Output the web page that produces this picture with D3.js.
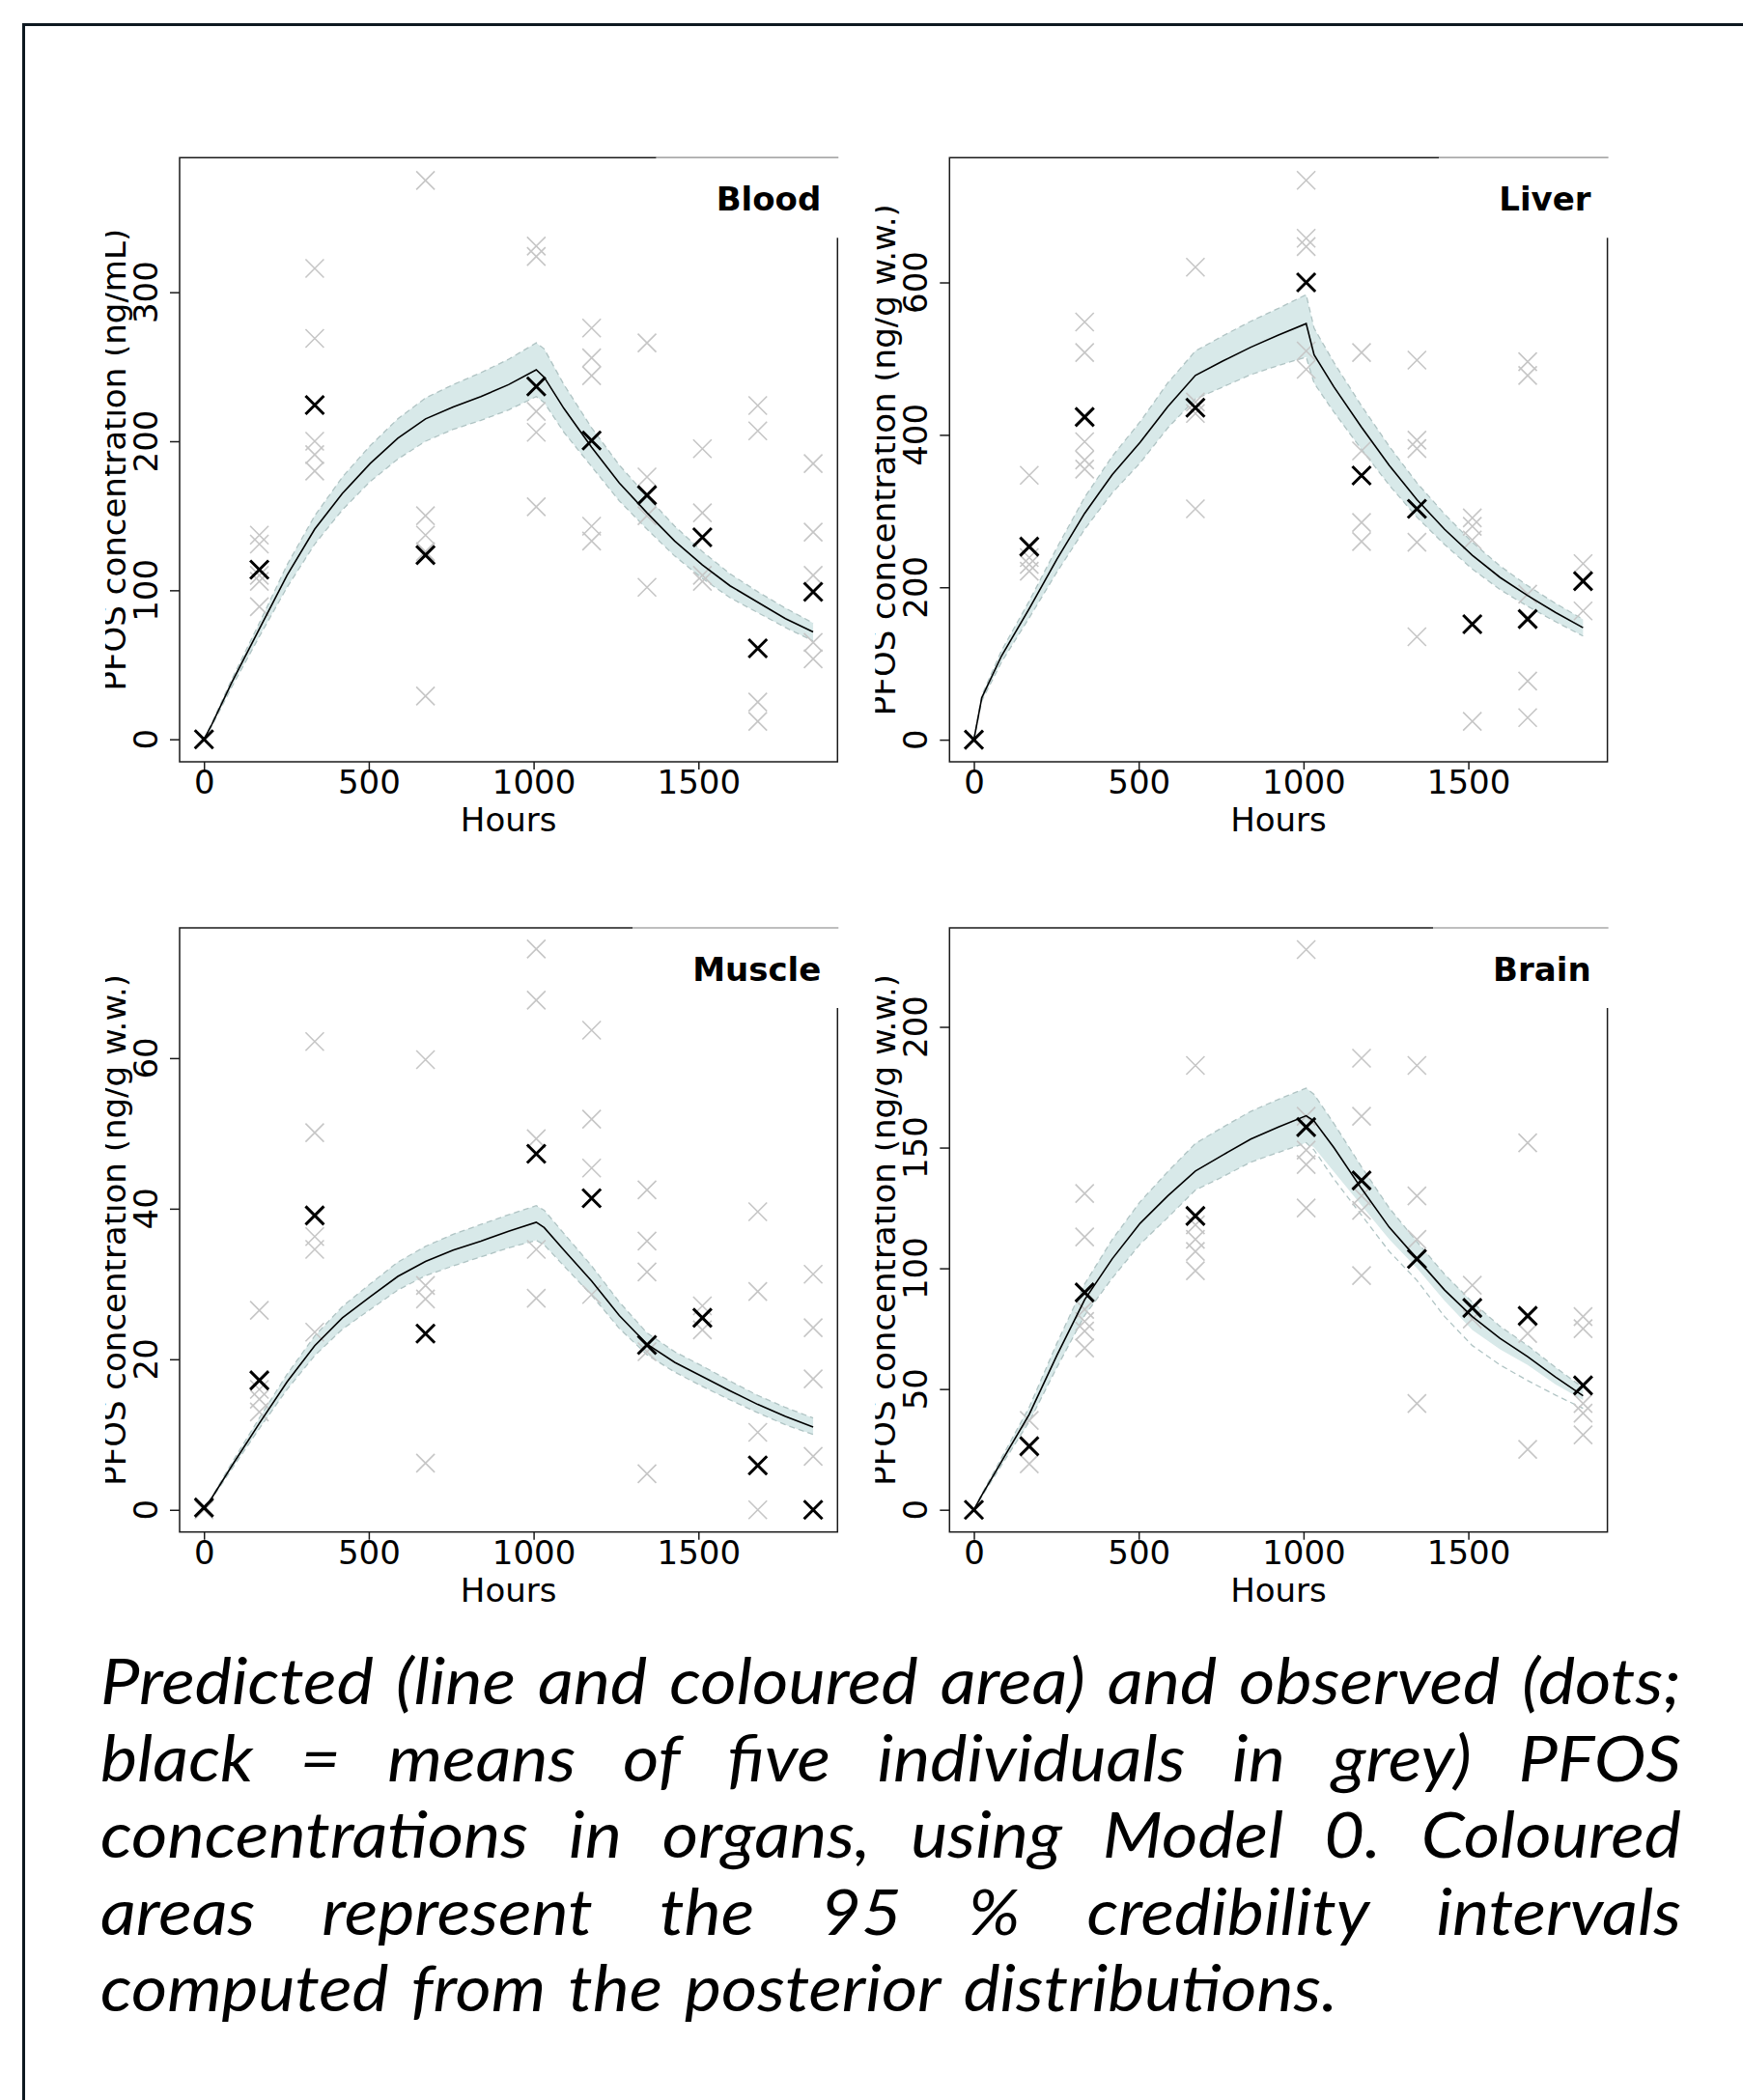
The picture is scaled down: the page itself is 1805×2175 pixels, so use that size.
<!DOCTYPE html>
<html>
<head>
<meta charset="utf-8">
<script src="https://cdn.jsdelivr.net/npm/d3@7/dist/d3.min.js"></script>
<style>
  body { margin: 0; background: #fff; }
  svg { display: block; }
</style>
</head>
<body>
<svg id="fig" width="1805" height="2175"></svg>
<script>
// sampling times (hours) of the observed data
const hours = [0, 168, 336, 672, 1008, 1176, 1344, 1512, 1680, 1848];
const predHours = [0, 24, 84, 168, 252, 336, 420, 504, 588, 672, 756, 840, 924, 1008, 1032, 1092, 1176, 1260, 1344, 1428, 1512, 1596, 1680, 1764, 1848];
const xTicks = [0, 500, 1000, 1500];

// ---- Blood
const bloodMean = [0, 113.8, 224.3, 123.6, 236.8, 200.5, 163.8, 135.5, 61, 98.9];
const bloodInd = [[0], [137, 131, 110, 106, 89], [316, 269, 200, 191, 180], [375, 150, 137, 126, 29],
  [331, 324, 220, 206, 156], [276, 256, 244, 143, 133], [266, 176, 150, 102], [195, 152, 110, 106],
  [224, 207, 25, 12], [185, 139, 110, 65, 54]];
const bloodPred = [0, 10, 38, 74, 110, 141, 165, 185, 202, 215, 223, 230, 238, 248, 243, 222, 196, 172, 152, 133, 117, 103, 92, 81, 72];
const bloodHi = [0, 11, 40, 78, 117, 150, 176, 197, 215, 229, 238, 246, 255, 266, 262, 238, 209, 184, 163, 143, 126, 111, 99, 88, 78];
const bloodLo = [0, 9, 35, 69, 102, 131, 154, 173, 188, 200, 208, 214, 221, 230, 226, 206, 183, 160, 141, 123, 108, 95, 85, 75, 66];

// ---- Liver
const liverMean = [0, 253.4, 423.5, 435.7, 600, 346.6, 302.9, 151.5, 158.4, 208];
const liverInd = [[0], [347, 239, 230, 221], [548, 508, 391, 367, 355], [620, 443, 428, 303],
  [734, 658, 647, 510, 486], [508, 379, 285, 260], [498, 393, 382, 259, 135], [291, 280, 262, 24],
  [496, 478, 191, 77, 29], [231, 169]];
const liverPred = [0, 55, 110, 172, 237, 297, 348, 390, 437, 478, 497, 515, 531, 546, 505, 463, 410, 360, 315, 276, 242, 213, 189, 167, 147];
const liverHi = [0, 58, 117, 182, 252, 318, 372, 417, 468, 510, 530, 549, 566, 584, 540, 495, 438, 385, 337, 296, 259, 228, 202, 179, 158];
const liverLo = [0, 51, 102, 160, 220, 276, 324, 363, 409, 447, 463, 479, 491, 502, 468, 430, 381, 334, 292, 256, 224, 197, 175, 155, 136];

// ---- Muscle
const muscleMean = [0.3, 17.2, 39.1, 23.4, 47.3, 41.4, 21.9, 25.5, 5.9, 0];
const muscleInd = [[0], [26.5, 16, 14.7, 13], [62.2, 50.1, 36.3, 34.6, 23.6], [59.8, 29.8, 28, 23.4, 6.2],
  [74.5, 67.7, 49.3, 34.6, 28.1], [63.7, 51.9, 45.4, 28.6], [42.5, 35.7, 31.6, 21, 4.8], [27.1, 23.9],
  [39.6, 29, 10.3, 0], [31.3, 24.2, 17.4, 7.1]];
const musclePred = [0, 1.6, 5.8, 11.5, 17, 21.8, 25.5, 28.3, 31, 33, 34.5, 35.7, 37, 38.2, 37.5, 34.5, 30.4, 25.8, 22, 19.6, 17.7, 15.8, 14, 12.4, 11];
const muscleHi = [0, 1.7, 6.2, 12.2, 18, 23.1, 27, 30, 32.9, 35, 36.6, 37.9, 39.2, 40.4, 39.8, 36.7, 32.4, 27.6, 23.5, 21, 19.1, 17.1, 15.2, 13.6, 12.2];
const muscleLo = [0, 1.5, 5.4, 10.8, 16, 20.5, 24, 26.6, 29.2, 31.1, 32.4, 33.6, 34.8, 35.8, 35.2, 32.4, 28.5, 24.1, 20.6, 18.3, 16.4, 14.6, 12.9, 11.3, 10];

// ---- Brain
const brainMean = [0, 26.3, 90, 121.7, 158.5, 136.4, 103.9, 83.6, 80.3, 51.5];
const brainInd = [[0], [37, 19], [131, 113, 83, 78, 74, 67], [184, 118, 112, 107, 99],
  [232, 163, 149, 143, 125], [187, 163, 130, 124, 97], [184, 130, 112, 44], [93, 79],
  [152, 73, 25], [80, 75, 44, 40, 31]];
const brainPred = [0, 6, 20, 39.5, 64, 87, 104, 118.6, 130, 140.3, 147, 153.5, 158.5, 163.2, 161, 150, 133, 117, 104, 91, 80, 71, 63.4, 55, 47.2];
const brainHi = [0, 6.5, 21.5, 42.5, 69, 93.5, 112, 127.5, 140, 151.7, 158.5, 165, 170, 174.6, 172, 160, 142, 125, 111, 97.5, 86, 76, 68, 59, 50.5];
const brainLo = [0, 5.5, 18.5, 36.5, 59, 80.5, 96, 110, 121, 132.4, 138, 144, 148, 152, 150, 140, 126, 112, 100, 86.5, 74.5, 66.5, 60, 52, 45.5];
// in the brain panel the dashed lower edge falls below the shaded area during depuration
const brainLoEdge = [0, 5.5, 18.5, 36.5, 59, 80.5, 96, 110, 121, 132.4, 138, 144, 148, 152, 149, 137, 122, 107, 95, 80, 68, 60, 53.5, 47.5, 42];

const captionLines = [
  'Predicted (line and coloured area) and observed (dots;',
  'black = means of five individuals in grey) PFOS',
  'concentrations in organs, using Model 0. Coloured',
  'areas represent the 95 % credibility intervals',
  'computed from the posterior distributions.'
];

const panels = [
  { title: 'Blood', ylab: 'PFOS concentration (ng/mL)', mean: bloodMean, ind: bloodInd,
    pred: bloodPred, hi: bloodHi, lo: bloodLo, loEdge: bloodLo,
    yTicks: [0, 100, 200, 300], yDomain: [-15.1, 390.3], left: 186, top: 163.3 },
  { title: 'Liver', ylab: 'PFOS concentration (ng/g w.w.)', mean: liverMean, ind: liverInd,
    pred: liverPred, hi: liverHi, lo: liverLo, loEdge: liverLo,
    yTicks: [0, 200, 400, 600], yDomain: [-29, 763.7], left: 983.3, top: 163.3 },
  { title: 'Muscle', ylab: 'PFOS concentration (ng/g w.w.)', mean: muscleMean, ind: muscleInd,
    pred: musclePred, hi: muscleHi, lo: muscleLo, loEdge: muscleLo,
    yTicks: [0, 20, 40, 60], yDomain: [-2.94, 77.3], left: 186, top: 961 },
  { title: 'Brain', ylab: 'PFOS concentration (ng/g w.w.)', mean: brainMean, ind: brainInd,
    pred: brainPred, hi: brainHi, lo: brainLo, loEdge: brainLoEdge,
    yTicks: [0, 50, 100, 150, 200], yDomain: [-9.2, 241], left: 983.3, top: 961 }
];

const W = 681.3, H = 625.7;
const axisFont = '"DejaVu Sans", sans-serif';

const svg = d3.select('#fig');
svg.append('rect').attr('width', 1805).attr('height', 2175).attr('fill', '#fff');

// outer frame (runs off the right and bottom edges)
svg.append('rect')
  .attr('x', 24.5).attr('y', 25.5).attr('width', 1810).attr('height', 2200)
  .attr('fill', 'none').attr('stroke', '#0e1820').attr('stroke-width', 3);

const defs = svg.append('defs');

const cross = (s) => `M${-s},${-s}L${s},${s}M${-s},${s}L${s},${-s}`;

panels.forEach((p, i) => {
  const x = d3.scaleLinear().domain([-73.9, 1921.9]).range([0, W]);
  const y = d3.scaleLinear().domain(p.yDomain).range([H, 0]);

  const g = svg.append('g').attr('transform', `translate(${p.left},${p.top})`);

  // credibility band
  const predRows = predHours.map((h, k) => ({ h, m: p.pred[k], hi: p.hi[k], lo: p.lo[k], loEdge: p.loEdge[k] }));
  g.append('path').datum(predRows)
    .attr('fill', '#d8e9e9')
    .attr('d', d3.area().x(d => x(d.h)).y0(d => y(d.lo)).y1(d => y(d.hi)));
  ['hi', 'loEdge'].forEach(key => {
    g.append('path').datum(predRows)
      .attr('fill', 'none').attr('stroke', '#b0c4c4').attr('stroke-width', 1.3)
      .attr('stroke-dasharray', '6,4')
      .attr('d', d3.line().x(d => x(d.h)).y(d => y(d[key])));
  });

  // individuals (grey)
  const indRows = [];
  hours.forEach((h, k) => p.ind[k].forEach(v => indRows.push({ h, v })));
  g.append('g').selectAll('path').data(indRows).join('path')
    .attr('transform', d => `translate(${x(d.h)},${y(d.v)})`)
    .attr('d', cross(9.5))
    .attr('stroke', '#c6c6c6').attr('stroke-width', 1.6).attr('fill', 'none');

  // predicted line
  g.append('path').datum(predRows)
    .attr('fill', 'none').attr('stroke', '#000').attr('stroke-width', 1.6)
    .attr('d', d3.line().x(d => x(d.h)).y(d => y(d.m)));

  // means (black)
  g.append('g').selectAll('path').data(hours.map((h, k) => ({ h, v: p.mean[k] }))).join('path')
    .attr('transform', d => `translate(${x(d.h)},${y(d.v)})`)
    .attr('d', cross(9.5))
    .attr('stroke', '#000').attr('stroke-width', 3).attr('fill', 'none');

  // box
  g.append('rect').attr('width', W).attr('height', H)
    .attr('fill', 'none').attr('stroke', '#1a1a1a').attr('stroke-width', 1.5);

  // x axis
  const xa = g.append('g').attr('transform', `translate(0,${H})`)
    .call(d3.axisBottom(x).tickValues(xTicks).tickSize(8).tickPadding(1).tickFormat(d3.format('d')));
  xa.select('.domain').remove();
  xa.selectAll('line').attr('stroke', '#1a1a1a').attr('stroke-width', 1.5);
  xa.selectAll('text').attr('font-family', axisFont).attr('font-size', 34).attr('fill', '#000');

  g.append('text').attr('x', W / 2).attr('y', H + 72)
    .attr('text-anchor', 'middle').attr('font-family', axisFont).attr('font-size', 34)
    .text('Hours');

  // y axis: rotated tick labels like R's default
  const ya = g.append('g').call(d3.axisLeft(y).tickValues(p.yTicks).tickSize(10).tickFormat(''));
  ya.select('.domain').remove();
  ya.selectAll('line').attr('stroke', '#1a1a1a').attr('stroke-width', 1.5);
  g.append('g').selectAll('text').data(p.yTicks).join('text')
    .attr('transform', d => `translate(-23,${y(d)}) rotate(-90)`)
    .attr('text-anchor', 'middle').attr('font-family', axisFont).attr('font-size', 34)
    .text(d => d);

  // y label, cut at the left edge of the panel image
  const clipId = 'clip' + i;
  defs.append('clipPath').attr('id', clipId)
    .append('rect').attr('x', -77).attr('y', -200).attr('width', W + 300).attr('height', H + 400);
  g.append('g').attr('clip-path', `url(#${clipId})`)
    .append('text')
    .attr('transform', `translate(-56,${H / 2}) rotate(-90)`)
    .attr('text-anchor', 'middle').attr('font-family', axisFont).attr('font-size', 34)
    .text(p.ylab);

  // title with its white box that hides part of the frame
  const title = g.append('text')
    .attr('x', W - 17).attr('y', 55)
    .attr('text-anchor', 'end').attr('font-family', axisFont).attr('font-weight', 'bold').attr('font-size', 34)
    .text(p.title);
  const tw = title.node().getComputedTextLength();
  const bx = W - 17 - tw - 62;
  g.insert('rect', () => title.node())
    .attr('x', bx).attr('y', -1).attr('width', W + 4 - bx).attr('height', 84).attr('fill', '#fff');
  g.insert('line', () => title.node())
    .attr('x1', bx).attr('x2', W + 1).attr('y1', 0).attr('y2', 0)
    .attr('stroke', '#a8a8a8').attr('stroke-width', 1.5);
});

// caption: condensed italic, justified like the original
const capLeft = 104, capRight = 1741, capTop = 1765, capStep = 79.5;
const lastLineRight = 1385, wordGap = 23;
const cap = svg.append('g')
  .attr('font-family', 'Lato, "Open Sans", sans-serif')
  .attr('font-style', 'italic').attr('font-size', 66).attr('fill', '#000');

const capRows = captionLines.map((line, li) => {
  const yPos = capTop + li * capStep;
  const nodes = line.split(' ').map(w => cap.append('text').attr('y', yPos).text(w));
  const widths = nodes.map(n => n.node().getComputedTextLength());
  return { nodes, widths, sum: d3.sum(widths) };
});
// horizontal scale of the glyphs so that the first line fits with normal spaces
const first = capRows[0];
const squeeze = (capRight - capLeft - wordGap * (first.nodes.length - 1)) / first.sum;

capRows.forEach((row, li) => {
  const last = li === capRows.length - 1;
  const n = row.nodes.length;
  const sc = last ? (lastLineRight - capLeft - wordGap * (n - 1)) / row.sum : squeeze;
  const gap = last ? wordGap : (capRight - capLeft - row.sum * sc) / (n - 1);
  let cx = capLeft;
  row.nodes.forEach((node, k) => {
    const w = row.widths[k] * sc;
    node.attr('x', cx).attr('textLength', w).attr('lengthAdjust', 'spacingAndGlyphs');
    cx += w + gap;
  });
});
</script>
</body>
</html>
